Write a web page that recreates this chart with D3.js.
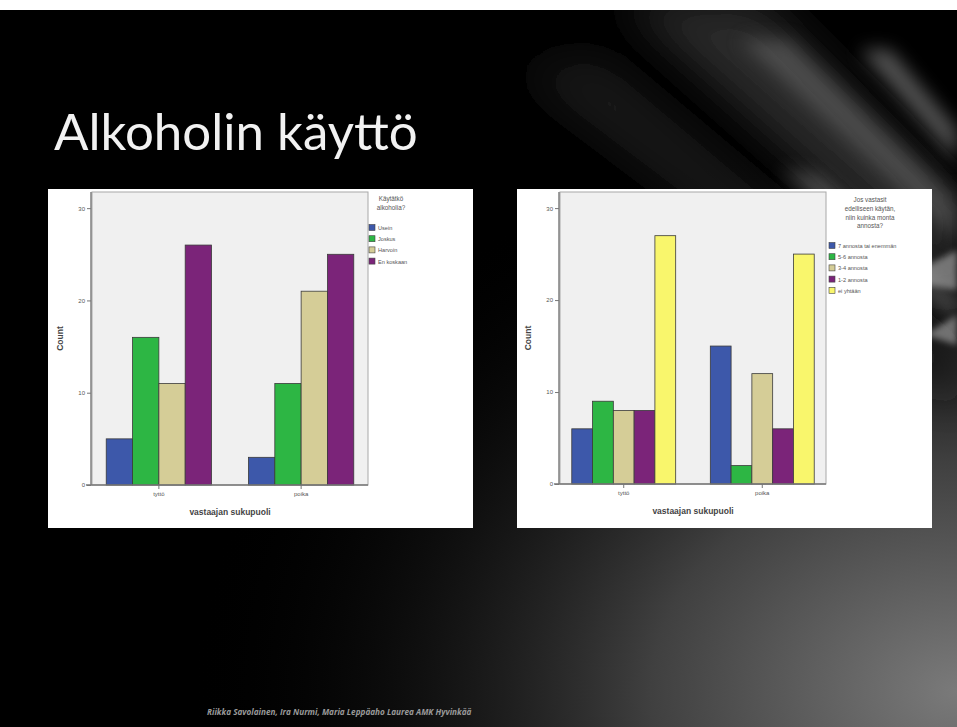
<!DOCTYPE html>
<html>
<head>
<meta charset="utf-8">
<script src="https://cdn.jsdelivr.net/npm/d3@7"></script>
<style>
html,body{margin:0;padding:0;background:#fff;}
svg{display:block;}
</style>
</head>
<body>
<svg id="slide" width="957" height="727"></svg>
<script>
// ---------- data ----------
const categories = ["tyttö", "poika"];

const leftSeries = ["Usein", "Joskus", "Harvoin", "En koskaan"];
const leftValuesTytto = [5, 16, 11, 26];
const leftValuesPoika = [3, 11, 21, 25];
const leftLegendTitle = ["Käytätkö", "alkoholia?"];

const rightSeries = ["7 annosta tai enemmän", "5-6 annosta", "3-4 annosta", "1-2 annosta", "ei yhtään"];
const rightValuesTytto = [6, 9, 8, 8, 27];
const rightValuesPoika = [15, 2, 12, 6, 25];
const rightLegendTitle = ["Jos vastasit", "edelliseen käytän,", "niin kuinka monta", "annosta?"];

const yTicks = [0, 10, 20, 30];
const seriesColors = ["#3d58aa", "#2db644", "#d5cd97", "#7b2479", "#f9f66c"];

const slideTitle = "Alkoholin käyttö";
const footerText = "Riikka Savolainen, Ira Nurmi, Maria Leppäaho Laurea AMK Hyvinkää";
const xAxisTitle = "vastaajan sukupuoli";
const yAxisTitle = "Count";

// ---------- slide background ----------
const svg = d3.select("#slide");
const defs = svg.append("defs");

const rg = defs.append("radialGradient").attr("id", "lowGlow")
  .attr("cx", 1.0).attr("cy", 0.95).attr("r", 0.8);
rg.append("stop").attr("offset", "0%").attr("stop-color", "#7a7a7a");
rg.append("stop").attr("offset", "40%").attr("stop-color", "#404040");
rg.append("stop").attr("offset", "100%").attr("stop-color", "#000").attr("stop-opacity", 0);

function mkBlur(id, sd) {
  defs.append("filter").attr("id", id).attr("x", "-50%").attr("y", "-50%").attr("width", "200%").attr("height", "200%")
    .append("feGaussianBlur").attr("stdDeviation", sd);
}
mkBlur("blurBig", 22);
mkBlur("blurMid", 9);
mkBlur("blurSmall", 3);

defs.append("clipPath").attr("id", "slideClip").append("rect").attr("x", 0).attr("y", 10).attr("width", 957).attr("height", 717);

svg.append("rect").attr("x", 0).attr("y", 10).attr("width", 957).attr("height", 717).attr("fill", "#000");
svg.append("rect").attr("x", 0).attr("y", 10).attr("width", 957).attr("height", 717).attr("fill", "url(#lowGlow)");

const streaks = svg.append("g").attr("clip-path", "url(#slideClip)");
streaks.append("path").attr("d", "M620,0 L760,0 L957,200 L957,300 Z").attr("fill", "#2c2c2c").attr("filter", "url(#blurBig)");
streaks.append("path").attr("d", "M520,70 L600,60 L957,360 L957,400 Z").attr("fill", "#1c1c1c").attr("filter", "url(#blurBig)");
streaks.append("path").attr("d", "M740,40 L790,40 L957,200 L957,240 Z").attr("fill", "#707070").attr("filter", "url(#blurMid)").attr("opacity", 0.5);
streaks.append("path").attr("d", "M860,50 L890,50 L957,130 L957,160 Z").attr("fill", "#909090").attr("filter", "url(#blurMid)").attr("opacity", 0.6);
streaks.append("path").attr("d", "M780,170 L820,175 L957,300 L957,320 Z").attr("fill", "#909090").attr("filter", "url(#blurMid)").attr("opacity", 0.45);
streaks.append("path").attr("d", "M900,280 L957,250 L957,290 Z").attr("fill", "#b0b0b0").attr("filter", "url(#blurSmall)").attr("opacity", 0.6);
streaks.append("path").attr("d", "M925,335 L957,315 L957,345 Z").attr("fill", "#aaa").attr("filter", "url(#blurSmall)").attr("opacity", 0.6);

// title
svg.append("text").attr("x", 54).attr("y", 150)
  .attr("font-family", "Lato, 'Open Sans', sans-serif").attr("font-size", 51)
  .attr("fill", "#f2f2f2").text(slideTitle);

// footer
svg.append("text").attr("x", 207).attr("y", 715)
  .attr("font-family", "'Open Sans', 'DejaVu Sans', sans-serif").attr("font-size", 8.2)
  .attr("font-style", "italic").attr("font-weight", "bold")
  .attr("fill", "#9a9a9a").text(footerText);

// ---------- chart builder ----------
function drawChart(cfg) {
  const g = svg.append("g");
  g.append("rect").attr("x", cfg.box[0]).attr("y", cfg.box[1])
    .attr("width", cfg.box[2]).attr("height", cfg.box[3]).attr("fill", "#fff");

  const x0 = d3.scaleBand().domain(categories).range([cfg.plot.left, cfg.plot.right])
    .paddingInner(cfg.pi).paddingOuter(cfg.po);
  const x1 = d3.scaleBand().domain(cfg.series).range([0, x0.bandwidth()]).padding(0);
  const y = d3.scaleLinear().domain([0, 31.75]).range([cfg.plot.bottom, cfg.plot.top]);
  const color = d3.scaleOrdinal().domain(cfg.series).range(seriesColors);

  g.append("rect").attr("x", cfg.plot.left).attr("y", cfg.plot.top)
    .attr("width", cfg.plot.right - cfg.plot.left).attr("height", cfg.plot.bottom - cfg.plot.top)
    .attr("fill", "#f0f0f0").attr("stroke", "#a8a8a8").attr("stroke-width", 1);

  const rows = categories.map((c, i) => ({cat: c, vals: cfg.values[i]}));
  const grp = g.selectAll(".grp").data(rows).enter().append("g")
    .attr("transform", d => `translate(${x0(d.cat)},0)`);
  grp.selectAll("rect").data(d => d.vals.map((v, j) => ({s: cfg.series[j], v})))
    .enter().append("rect")
    .attr("x", d => x1(d.s)).attr("width", x1.bandwidth())
    .attr("y", d => y(d.v)).attr("height", d => y(0) - y(d.v))
    .attr("fill", d => color(d.s)).attr("stroke", "#3a3a3a").attr("stroke-width", 0.8);

  const yAxis = d3.axisLeft(y).tickValues(yTicks).tickSize(4).tickPadding(2);
  const ya = g.append("g").attr("transform", `translate(${cfg.plot.left - 1},0)`).call(yAxis);
  ya.select(".domain").attr("stroke", "#777").attr("stroke-width", 1.4)
    .attr("d", `M0,${cfg.plot.bottom}V${cfg.plot.top}`);
  ya.selectAll(".tick line").attr("stroke", "#777");
  ya.selectAll(".tick text").attr("font-size", 6).attr("fill", "#555")
    .attr("font-family", "'Liberation Sans', Arial, sans-serif");

  const xAxis = d3.axisBottom(x0).tickSize(4).tickPadding(3);
  const xa = g.append("g").attr("transform", `translate(0,${cfg.plot.bottom})`).call(xAxis);
  xa.select(".domain").attr("stroke", "#777").attr("stroke-width", 1.4)
    .attr("d", `M${cfg.plot.left - 6},0H${cfg.plot.right}`);
  xa.selectAll(".tick line").attr("stroke", "#777");
  xa.selectAll(".tick text").attr("font-size", 6).attr("fill", "#555")
    .attr("font-family", "'Liberation Sans', Arial, sans-serif");

  g.append("text").attr("x", (cfg.plot.left + cfg.plot.right) / 2).attr("y", cfg.plot.bottom + 30)
    .attr("text-anchor", "middle").attr("font-size", 8.5).attr("font-weight", "bold")
    .attr("fill", "#444").attr("font-family", "'Liberation Sans', Arial, sans-serif").text(xAxisTitle);
  g.append("text").attr("transform", `translate(${cfg.plot.left - 29},${(cfg.plot.top + cfg.plot.bottom) / 2}) rotate(-90)`)
    .attr("text-anchor", "middle").attr("font-size", 8.5).attr("font-weight", "bold")
    .attr("fill", "#444").attr("font-family", "'Liberation Sans', Arial, sans-serif").text(yAxisTitle);

  const lg = g.append("g");
  cfg.legendTitle.forEach((t, i) => {
    lg.append("text").attr("x", cfg.legend.titleX).attr("y", cfg.legend.titleY + i * 8.8)
      .attr("text-anchor", "middle").attr("font-size", 6.3).attr("fill", "#555")
      .attr("font-family", "'Liberation Sans', Arial, sans-serif").text(t);
  });
  const items = lg.selectAll(".li").data(cfg.series).enter().append("g")
    .attr("transform", (d, i) => `translate(${cfg.legend.x},${cfg.legend.y + i * 11.2})`);
  items.append("rect").attr("x", 0).attr("y", -3.5).attr("width", 6).attr("height", 6)
    .attr("fill", d => color(d)).attr("stroke", "#444").attr("stroke-width", 0.6);
  items.append("text").attr("x", 9).attr("y", 2).attr("font-size", 5.6).attr("fill", "#555")
    .attr("font-family", "'Liberation Sans', Arial, sans-serif").text(d => d);
}

drawChart({
  box: [48, 189, 425, 339],
  plot: {left: 92, right: 368, top: 192, bottom: 485},
  pi: 0.26, po: 0.1,
  series: leftSeries,
  values: [leftValuesTytto, leftValuesPoika],
  legendTitle: leftLegendTitle,
  legend: {titleX: 391, titleY: 201, x: 369, y: 228}
});

drawChart({
  box: [517, 189, 415, 339],
  plot: {left: 560, right: 826, top: 192, bottom: 484},
  pi: 0.25, po: 0.085,
  series: rightSeries,
  values: [rightValuesTytto, rightValuesPoika],
  legendTitle: rightLegendTitle,
  legend: {titleX: 870, titleY: 202, x: 829, y: 246}
});
</script>
</body>
</html>
